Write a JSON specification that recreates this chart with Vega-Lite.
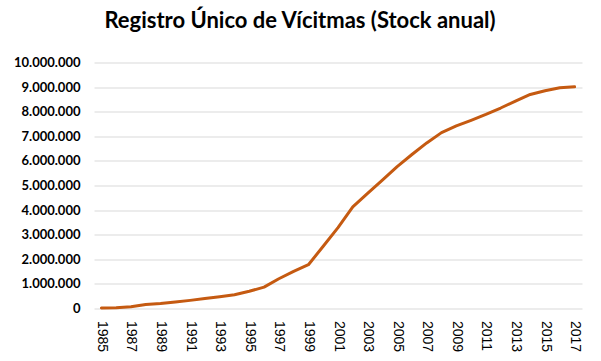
{
  "$schema": "https://vega.github.io/schema/vega-lite/v6.json",
  "width": 488,
  "height": 246,
  "autosize": {"type": "none"},
  "padding": {"left": 94, "top": 62.5, "right": 19, "bottom": 52.5},
  "background": "white",
  "config": {
    "locale": {"number": {"decimal": ",", "thousands": ".", "grouping": [3], "currency": ["$", ""]}},
    "view": {"stroke": null}
  },
  "title": {
    "text": "Registro Único de Vícitmas (Stock anual)",
    "font": "Lato",
    "fontSize": 22,
    "fontWeight": "bold",
    "color": "#000000",
    "anchor": "middle",
    "frame": "group",
    "dx": -38,
    "offset": 24
  },
  "data": {
    "values": [
      {"year": 1985, "victims": 20000},
      {"year": 1986, "victims": 30000},
      {"year": 1987, "victims": 70000},
      {"year": 1988, "victims": 160000},
      {"year": 1989, "victims": 200000},
      {"year": 1990, "victims": 260000},
      {"year": 1991, "victims": 330000},
      {"year": 1992, "victims": 410000},
      {"year": 1993, "victims": 480000},
      {"year": 1994, "victims": 560000},
      {"year": 1995, "victims": 700000},
      {"year": 1996, "victims": 870000},
      {"year": 1997, "victims": 1210000},
      {"year": 1998, "victims": 1510000},
      {"year": 1999, "victims": 1780000},
      {"year": 2000, "victims": 2530000},
      {"year": 2001, "victims": 3290000},
      {"year": 2002, "victims": 4130000},
      {"year": 2003, "victims": 4680000},
      {"year": 2004, "victims": 5220000},
      {"year": 2005, "victims": 5770000},
      {"year": 2006, "victims": 6260000},
      {"year": 2007, "victims": 6730000},
      {"year": 2008, "victims": 7150000},
      {"year": 2009, "victims": 7420000},
      {"year": 2010, "victims": 7650000},
      {"year": 2011, "victims": 7890000},
      {"year": 2012, "victims": 8150000},
      {"year": 2013, "victims": 8430000},
      {"year": 2014, "victims": 8700000},
      {"year": 2015, "victims": 8850000},
      {"year": 2016, "victims": 8970000},
      {"year": 2017, "victims": 9010000}
    ]
  },
  "mark": {"type": "line", "color": "#C55A11", "strokeWidth": 3, "strokeCap": "round", "strokeJoin": "round"},
  "encoding": {
    "x": {
      "field": "year",
      "type": "quantitative",
      "scale": {"domain": [1984.5, 2017.5], "nice": false, "zero": false},
      "axis": {
        "title": null,
        "values": [1985, 1987, 1989, 1991, 1993, 1995, 1997, 1999, 2001, 2003, 2005, 2007, 2009, 2011, 2013, 2015, 2017],
        "format": "d",
        "grid": false,
        "ticks": false,
        "domain": false,
        "labelAngle": 90,
        "labelAlign": "left",
        "labelBaseline": "middle",
        "labelPadding": 12,
        "labelFont": "Liberation Sans",
        "labelFontSize": 14,
        "labelColor": "#000000",
        "labelOverlap": false
      }
    },
    "y": {
      "field": "victims",
      "type": "quantitative",
      "scale": {"domain": [0, 10000000], "nice": false},
      "axis": {
        "title": null,
        "values": [0, 1000000, 2000000, 3000000, 4000000, 5000000, 6000000, 7000000, 8000000, 9000000, 10000000],
        "format": ",d",
        "grid": true,
        "gridColor": "#D9D9D9",
        "gridWidth": 1,
        "ticks": false,
        "domain": false,
        "labelPadding": 14,
        "labelFont": "Lato",
        "labelFontSize": 13,
        "labelFontWeight": "bold",
        "labelColor": "#000000"
      }
    }
  }
}
